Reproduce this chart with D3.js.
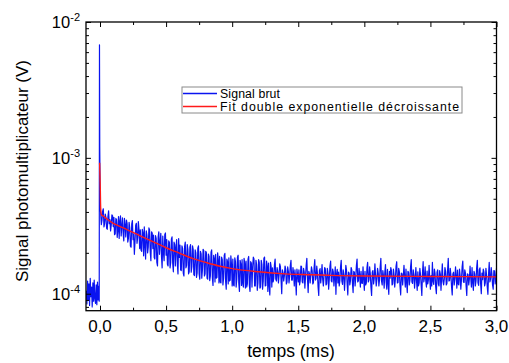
<!DOCTYPE html>
<html><head><meta charset="utf-8">
<script src="https://cdn.jsdelivr.net/npm/d3@7/dist/d3.min.js"></script>
<style>
body{margin:0;background:#fff}
text{font-family:"Liberation Sans",Arial,sans-serif;fill:#000}
</style>
</head><body>
<svg id="chart" width="509" height="363"></svg>
<script>
// ---- data ----
const xTicks = [0, 0.5, 1, 1.5, 2, 2.5, 3];
const xTickLabels = ["0,0", "0,5", "1,0", "1,5", "2,0", "2,5", "3,0"];
const xMinorTicks = [0.25, 0.75, 1.25, 1.75, 2.25, 2.75];
const yTicks = [1e-4, 1e-3, 1e-2];
const yTickExponents = ["-4", "-3", "-2"];
const yMinorTicks = [8e-5, 9e-5, 2e-4, 3e-4, 4e-4, 5e-4, 6e-4, 7e-4, 8e-4, 9e-4,
                     2e-3, 3e-3, 4e-3, 5e-3, 6e-3, 7e-3, 8e-3, 9e-3];
const legendLabels = ["Signal brut", "Fit double exponentielle décroissante"];

// raw signal, values in units of 1e-4 V
const preTriggerStart = -0.104, preTriggerStep = 0.005;   // ms
const preTriggerE4 = [1.05,0.84,1.24,0.90,1.18,0.82,1.30,0.95,1.12,0.80,
                      1.20,0.88,1.26,0.92,0.85,1.16,0.83,1.22,0.90,1.14];
const spikeTime = [-0.006, -0.004, -0.002, 0.002];        // ms
const spikeE4 = [0.88, 68, 12, 4.2];
const decayStart = 0.005, decayStep = 0.005;              // ms
const decayE4 = [
 3.95,3.22,3.48,4.05,4.22,3.10,3.30,3.86,3.62,3.04,2.98,3.70,4.08,3.28,3.51,2.90,3.20,3.80,3.74,3.12,
 3.65,2.72,2.76,3.58,3.52,2.60,2.92,3.70,2.55,3.42,3.75,2.66,3.15,3.62,2.80,2.45,3.58,3.20,2.62,3.48,
 3.30,2.40,2.55,3.35,3.05,2.25,2.20,3.25,3.45,2.50,2.75,1.95,2.45,3.20,3.30,2.35,2.60,3.40,2.95,2.15,
 2.95,2.10,2.05,2.98,2.80,1.90,3.10,2.25,1.80,2.90,2.70,2.00,2.20,3.05,2.95,2.05,1.75,2.85,2.80,2.15,
 2.70,1.85,1.80,2.68,2.55,1.70,1.60,2.62,2.85,1.95,2.40,2.78,1.90,1.55,2.66,2.00,1.75,2.72,2.80,1.92,
 2.50,1.65,1.60,2.45,2.38,1.55,1.70,2.52,2.62,1.68,1.45,2.40,2.30,1.60,2.20,2.50,1.66,1.40,2.55,1.85,
 2.28,1.50,1.48,2.25,2.15,1.42,1.35,2.22,2.40,1.55,1.62,2.30,2.12,1.40,1.45,2.20,2.30,1.44,1.58,2.25,
 2.12,1.38,1.36,2.10,2.00,1.32,1.42,2.16,2.25,1.40,1.28,2.05,1.96,1.30,1.50,2.12,2.08,1.35,1.40,2.05,
 2.00,1.30,1.28,1.96,1.88,1.25,1.35,2.02,2.10,1.32,1.15,1.92,1.82,1.22,1.95,1.30,1.32,2.00,1.78,1.20,
 1.88,1.22,1.20,1.86,1.78,1.16,1.30,1.92,1.98,1.25,1.08,1.80,1.72,1.18,1.84,1.24,1.26,1.90,1.64,1.14,
 1.80,1.16,1.14,1.84,1.72,1.12,1.28,1.86,1.92,1.20,1.04,1.76,1.66,1.15,1.78,1.18,1.12,1.82,1.68,1.10,
 1.74,1.12,1.18,1.80,1.88,1.15,1.04,1.72,1.68,1.12,1.58,1.86,1.80,1.14,1.14,1.76,1.64,1.06,1.20,1.78,
 1.70,1.10,1.12,1.76,1.64,1.08,1.24,1.82,1.86,1.14,1.15,1.74,1.60,1.04,1.68,1.14,0.98,1.70,1.58,1.12,
 1.55,1.22,1.30,1.64,1.80,1.28,1.24,1.56,1.45,1.20,1.38,1.66,1.58,1.26,1.00,1.50,1.42,1.24,1.36,1.60,
 1.52,1.18,1.22,1.58,1.46,1.20,1.35,1.62,1.76,1.26,1.26,1.56,1.40,1.14,1.50,1.28,0.98,1.52,1.37,1.22,
 1.50,1.16,1.25,1.60,1.58,1.22,1.20,1.54,1.44,1.10,1.33,1.62,1.82,1.28,1.02,1.46,1.40,1.20,1.39,1.58,
 1.48,1.18,1.21,1.56,1.78,1.26,1.30,1.60,1.42,1.12,0.97,1.48,1.53,1.20,1.36,1.64,1.28,1.14,1.35,1.56,
 1.52,1.16,1.18,1.54,1.41,1.08,1.29,1.60,1.74,1.24,1.22,1.52,1.45,1.14,1.33,1.58,0.99,1.40,1.51,1.20,
 1.44,1.14,1.25,1.58,1.76,1.24,1.17,1.50,1.38,1.06,1.30,1.62,1.49,1.18,0.98,1.44,1.42,1.16,1.25,1.56,
 1.50,1.20,1.02,1.46,1.43,1.14,1.32,1.62,1.80,1.22,1.24,1.54,1.36,1.12,1.46,1.20,1.19,1.58,1.28,1.06,
 1.46,1.16,1.20,1.56,1.70,1.22,1.26,1.58,1.40,1.12,0.97,1.44,1.48,1.18,1.30,1.66,1.36,1.14,1.28,1.54,
 1.42,1.14,1.27,1.58,1.82,1.24,1.16,1.48,1.35,1.10,1.44,1.64,1.22,1.08,1.51,1.20,0.99,1.46,1.30,1.56,
 1.48,1.16,1.18,1.52,1.37,1.12,1.29,1.60,1.72,1.20,1.21,1.54,1.45,1.14,0.98,1.42,1.40,1.16,1.36,1.62,
 1.32,1.12,1.52,1.20,1.02,1.46,1.43,1.16,1.26,1.58,1.78,1.22,1.19,1.50,1.38,1.10,1.30,1.56,1.23,1.06,
 1.45,1.14,1.20,1.54,1.38,1.16,0.97,1.42,1.72,1.22,1.31,1.58,1.24,1.12,1.47,1.18,1.27,1.62,1.29,1.08,
 1.36,1.14,1.70,1.24,1.17,1.52,1.41,1.12,1.00,1.44,1.50,1.18,1.14,1.48,1.39,1.06,1.33,1.66,1.23,1.16,
 1.28,1.56,1.46,1.16,1.19,1.50,1.82,1.24,1.25,1.54,1.37,1.12,0.98,1.40,1.44,1.16,1.30,1.58,1.33,1.10,
 1.49,1.18,1.16,1.52,1.35,1.08,1.27,1.58,1.74,1.22,1.21,1.50,1.42,1.14,0.97,1.40,1.38,1.16,1.29,1.60,
 1.31,1.12,1.56,1.20,1.06,1.46,1.40,1.14,1.24,1.56,1.76,1.20,1.15,1.50,1.55,1.18,1.00,1.42,1.27,1.52,
 1.44,1.14,1.20,1.54,1.36,1.12,0.99,1.40,1.70,1.22,1.28,1.56,1.41,1.16,1.08,1.48,1.47,1.18,1.30,1.54
];

// fitted double exponential, values in 1e-4 V
const fitTime = [-0.003, 0.002, 0.005, 0.01, 0.03, 0.06, 0.1, 0.15, 0.2, 0.3, 0.4, 0.5,
                 0.6, 0.7, 0.8, 0.9, 1.0, 1.2, 1.4, 1.6, 1.8, 2.0, 2.5, 3.0];
const fitE4 = [9.2, 6.0, 4.3, 3.82, 3.70, 3.50, 3.30, 3.13, 2.98, 2.68, 2.42, 2.18,
               1.99, 1.82, 1.70, 1.60, 1.53, 1.45, 1.40, 1.38, 1.36, 1.35, 1.34, 1.33];

// ---- build point lists ----
const signal = [];
preTriggerE4.forEach((v, i) => signal.push([preTriggerStart + i * preTriggerStep, v * 1e-4]));
spikeE4.forEach((v, i) => signal.push([spikeTime[i], v * 1e-4]));
decayE4.forEach((v, i) => signal.push([decayStart + i * decayStep, v * 1e-4]));
const fit = fitTime.map((t, i) => [t, fitE4[i] * 1e-4]);

// ---- layout ----
const L = 86, R = 496.5, T = 22, B = 310.7;
const svg = d3.select("#chart");
const x = d3.scaleLinear().domain([-0.106, 3.0]).range([L, R]);
const y = d3.scaleLog().domain([Math.pow(10, -4.125), 1e-2]).range([B, T]);

svg.append("defs").append("clipPath").attr("id", "clip")
  .append("rect").attr("x", L).attr("y", T).attr("width", R - L).attr("height", B - T);

const blue = "#0a14f0", red = "#ff1a1a";
const plot = svg.append("g").attr("clip-path", "url(#clip)");
const line = d3.line().x(d => x(d[0])).y(d => y(d[1]));
plot.append("path").datum(signal).attr("d", line)
  .attr("fill", "none").attr("stroke", blue).attr("stroke-width", 1.2).attr("stroke-linejoin", "round");
plot.append("path").datum(fit).attr("d", line.curve(d3.curveMonotoneX))
  .attr("fill", "none").attr("stroke", red).attr("stroke-width", 1.4);

// ---- axes (ticks inward) ----
function styleAxis(g) {
  g.select(".domain").remove();
  g.selectAll("line").attr("stroke", "#000").attr("stroke-width", 1);
}
function addAxis(gen, tx, ty, vals, size) {
  svg.append("g").attr("transform", `translate(${tx},${ty})`)
    .call(gen.tickValues(vals).tickSize(-size).tickFormat(""))
    .call(styleAxis);
}
addAxis(d3.axisBottom(x), 0, B, xTicks, 5);
addAxis(d3.axisBottom(x), 0, B, xMinorTicks, 3);
addAxis(d3.axisTop(x), 0, T, xTicks, 5);
addAxis(d3.axisTop(x), 0, T, xMinorTicks, 3);
addAxis(d3.axisLeft(y), L, 0, yTicks, 5);
addAxis(d3.axisLeft(y), L, 0, yMinorTicks, 3);
addAxis(d3.axisRight(y), R, 0, yTicks, 5);
addAxis(d3.axisRight(y), R, 0, yMinorTicks, 3);

// frame
svg.append("rect").attr("x", L).attr("y", T).attr("width", R - L).attr("height", B - T)
  .attr("fill", "none").attr("stroke", "#000").attr("stroke-width", 1.3);

// tick labels
svg.append("g").selectAll("text").data(xTicks).join("text")
  .attr("x", d => x(d)).attr("y", 332).attr("text-anchor", "middle")
  .attr("font-size", 17).text((d, i) => xTickLabels[i]);
const yl = svg.append("g").selectAll("text").data(yTicks).join("text")
  .attr("x", 80).attr("y", d => y(d) + 6).attr("text-anchor", "end").attr("font-size", 16.5);
yl.append("tspan").text("10");
yl.append("tspan").attr("font-size", 11).attr("dy", -7).text((d, i) => yTickExponents[i]);

// axis titles
svg.append("text").attr("x", 291).attr("y", 357).attr("text-anchor", "middle")
  .attr("font-size", 17.5).text("temps (ms)");
svg.append("text").attr("transform", "translate(27.5,171) rotate(-90)")
  .attr("text-anchor", "middle").attr("font-size", 17).text("Signal photomultiplicateur (V)");

// legend
const lg = svg.append("g");
lg.append("rect").attr("x", 182).attr("y", 87).attr("width", 280).attr("height", 26)
  .attr("fill", "#fff").attr("stroke", "#8a8a8a").attr("stroke-width", 1);
const legendColors = [blue, red];
const legendTextWidth = [60, 239];
legendLabels.forEach((lab, i) => {
  const yy = 93.5 + i * 13;
  lg.append("line").attr("x1", 183).attr("x2", 217).attr("y1", yy).attr("y2", yy)
    .attr("stroke", legendColors[i]).attr("stroke-width", 1.5);
  lg.append("text").attr("x", 220).attr("y", yy + 4.5).attr("font-size", 12.3)
    .attr("textLength", legendTextWidth[i]).attr("lengthAdjust", "spacing").text(lab);
});
</script>
</body></html>
